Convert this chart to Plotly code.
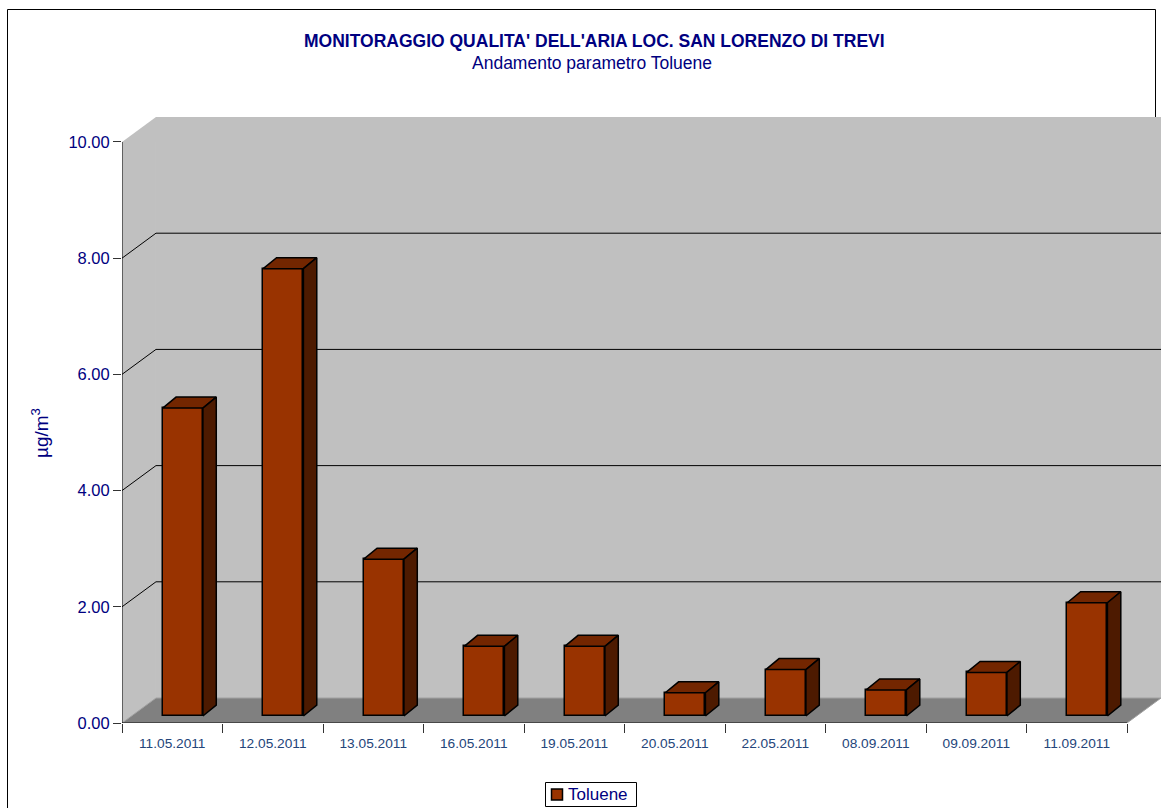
import plotly.graph_objects as go

# ---------------- data ----------------
dates = ["11.05.2011", "12.05.2011", "13.05.2011", "16.05.2011", "19.05.2011",
         "20.05.2011", "22.05.2011", "08.09.2011", "09.09.2011", "11.09.2011"]
toluene = [5.30, 7.70, 2.70, 1.20, 1.20, 0.40, 0.80, 0.45, 0.75, 1.95]
y_tick_vals = [0, 2, 4, 6, 8, 10]
y_tick_text = ["0.00", "2.00", "4.00", "6.00", "8.00", "10.00"]
series_name = "Toluene"
title_text = "MONITORAGGIO QUALITA' DELL'ARIA LOC. SAN LORENZO DI TREVI"
subtitle_text = "Andamento parametro Toluene"
y_title = "µg/m<sup>3</sup>"

# ---------------- geometry / style ----------------
W, H = 1165, 808
ML, MR, MT, MB = 122, 4, 117, 85
PW, PH = W - ML - MR, H - MT - MB
n = len(dates)
x_pos = list(range(n))
YMAX = 10
DX = 0.338      # wall depth in category units
DY = 0.430      # wall depth in value units
BASE = 0.12     # bar front-face base (depth offset)
BOFF, BW = -0.095, 0.40
BDX, BDY = 0.133, 0.189  # bar depth

FONT = "Arial, 'Liberation Sans', sans-serif"
NAVY = "#000080"
XLAB = "#24457A"
FRONT, TOP, SIDE = "#993300", "#732600", "#4D1A00"


def px_x(px):
    return (px - ML) / PW


def px_y(py):
    return (H - MB - py) / PH


fig = go.Figure()

fig.add_trace(go.Bar(
    x=x_pos, y=toluene, base=[BASE] * n, offset=BOFF, width=BW,
    name=series_name,
    marker=dict(color=FRONT, line=dict(color="black", width=1.5)),
    showlegend=False, hoverinfo="skip",
))

tx, ty, sx, sy = [], [], [], []
for i, v in zip(x_pos, toluene):
    x0 = i + BOFF
    x1 = x0 + BW
    yb = BASE
    yt = BASE + v
    tx += [x0, x0 + BDX, x1 + BDX, x1, x0, None]
    ty += [yt, yt + BDY, yt + BDY, yt, yt, None]
    sx += [x1, x1 + BDX, x1 + BDX, x1, x1, None]
    sy += [yb, yb + BDY, yt + BDY, yt, yb, None]

fig.add_trace(go.Scatter(x=tx, y=ty, mode="lines", fill="toself", fillcolor=TOP,
                         line=dict(color="black", width=1.5), showlegend=False,
                         hoverinfo="skip"))
fig.add_trace(go.Scatter(x=sx, y=sy, mode="lines", fill="toself", fillcolor=SIDE,
                         line=dict(color="black", width=1.5), showlegend=False,
                         hoverinfo="skip"))

shapes = []
# outer frame
shapes.append(dict(type="line", xref="paper", yref="paper", x0=px_x(7.5), x1=px_x(7.5),
                   y0=px_y(9.5), y1=px_y(830), line=dict(color="black", width=1), layer="below"))
shapes.append(dict(type="line", xref="paper", yref="paper", x0=px_x(7.5), x1=px_x(1155.5),
                   y0=px_y(9.5), y1=px_y(9.5), line=dict(color="black", width=1), layer="below"))
shapes.append(dict(type="line", xref="paper", yref="paper", x0=px_x(1155.5), x1=px_x(1155.5),
                   y0=px_y(9.5), y1=px_y(117), line=dict(color="black", width=1), layer="below"))

xl, xr = -0.5, n - 0.5
# left wall
shapes.append(dict(type="path", layer="below",
                   path=f"M {xl},0 L {xl},{YMAX} L {xl+DX},{YMAX+DY} L {xl+DX},{DY} Z",
                   fillcolor="#C0C0C0", line=dict(width=0)))
# back wall
shapes.append(dict(type="rect", layer="below", x0=xl + DX, x1=xr + DX, y0=DY, y1=YMAX + DY,
                   fillcolor="#C0C0C0", line=dict(width=0)))
# floor
shapes.append(dict(type="path", layer="below",
                   path=f"M {xl},0 L {xr},0 L {xr+DX},{DY} L {xl+DX},{DY} Z",
                   fillcolor="#808080", line=dict(color="#A0A0A0", width=1)))
# gridlines
for v in y_tick_vals[1:-1]:
    shapes.append(dict(type="line", layer="below", x0=xl, y0=v, x1=xl + DX, y1=v + DY,
                       line=dict(color="black", width=1)))
    shapes.append(dict(type="line", layer="below", x0=xl + DX, y0=v + DY, x1=xr + DX, y1=v + DY,
                       line=dict(color="black", width=1)))
# axis lines
shapes.append(dict(type="line", layer="below", x0=xl, y0=0, x1=xl, y1=YMAX,
                   line=dict(color="black", width=1)))
shapes.append(dict(type="line", layer="below", x0=xl, y0=0, x1=xr, y1=0,
                   line=dict(color="black", width=1)))

# legend (box, swatch, label)
shapes.append(dict(type="rect", xref="paper", yref="paper", layer="above",
                   x0=px_x(545.5), x1=px_x(636.5), y0=px_y(806.5), y1=px_y(782.5),
                   fillcolor="white", line=dict(color="black", width=1)))
shapes.append(dict(type="rect", xref="paper", yref="paper", layer="above",
                   x0=px_x(551.5), x1=px_x(562.5), y0=px_y(800), y1=px_y(789),
                   fillcolor=FRONT, line=dict(color="black", width=1.5)))

annotations = [
    dict(text=f"<b>{title_text}</b>", xref="paper", yref="paper", x=px_x(594), y=px_y(41),
         showarrow=False, xanchor="center", yanchor="middle",
         font=dict(family=FONT, size=17.5, color=NAVY)),
    dict(text=subtitle_text, xref="paper", yref="paper", x=px_x(592), y=px_y(63),
         showarrow=False, xanchor="center", yanchor="middle",
         font=dict(family=FONT, size=17.5, color=NAVY)),
    dict(text=y_title, xref="paper", yref="paper", x=px_x(40), y=px_y(433), textangle=-90,
         showarrow=False, xanchor="center", yanchor="middle",
         font=dict(family=FONT, size=19, color=NAVY)),
    dict(text=series_name, xref="paper", yref="paper", x=px_x(566), y=px_y(794.5),
         showarrow=False, xanchor="left", yanchor="middle",
         font=dict(family=FONT, size=17, color=NAVY)),
]

fig.update_layout(
    width=W, height=H,
    margin=dict(l=ML, r=MR, t=MT, b=MB, pad=0),
    paper_bgcolor="white", plot_bgcolor="white",
    font=dict(family=FONT, color=NAVY),
    shapes=shapes, annotations=annotations,
    bargap=0,
    xaxis=dict(range=[xl, xr + DX], tickmode="array", tickvals=x_pos, ticktext=dates,
               ticks="outside", ticklen=8, tickcolor="rgba(0,0,0,0)",
               tickfont=dict(family=FONT, size=13.7, color=XLAB),
               showgrid=False, zeroline=False, showline=False, fixedrange=True,
               minor=dict(tickmode="array", tickvals=[i - 0.5 for i in range(n + 1)],
                          ticks="outside", ticklen=9, tickcolor="#333", tickwidth=1,
                          showgrid=False)),
    yaxis=dict(range=[0, YMAX + DY], tickmode="array", tickvals=y_tick_vals,
               ticktext=y_tick_text, ticks="outside", ticklen=8, tickcolor="#333",
               tickfont=dict(family=FONT, size=16.5, color=NAVY),
               showgrid=False, zeroline=False, showline=False, fixedrange=True),
    showlegend=False,
)

fig.write_html("out.html", config=dict(displayModeBar=False),
               post_script="document.body.style.margin='0';document.body.style.overflow='hidden';")
